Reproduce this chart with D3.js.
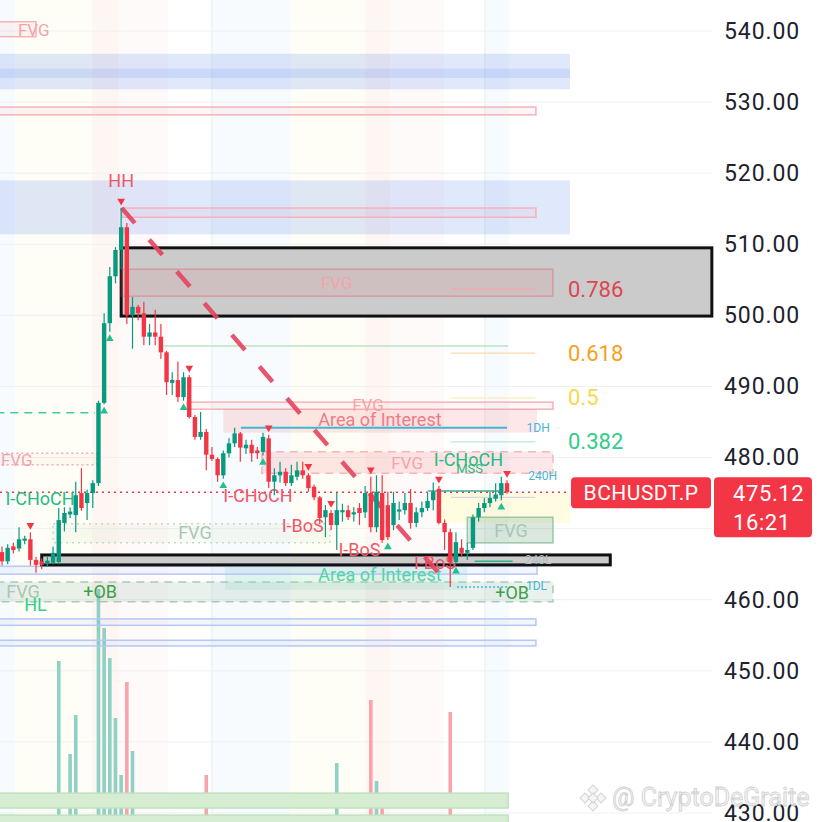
<!DOCTYPE html>
<html>
<head>
<meta charset="utf-8">
<script src="https://cdn.jsdelivr.net/npm/d3@7"></script>
<style>
body { margin: 0; background: #fff; }
svg { display: block; font-family: Roboto, "Noto Sans", sans-serif; }
</style>
</head>
<body>
<svg width="822" height="822"></svg>
<script>
// candles (price units)
const opens = [466.7,465.4,467.5,467.2,468.3,468.5,465.6,465.4,465.0,465.2,
  465.3,470.8,472.0,471.9,475.0,473.6,475.0,476.4,487.7,498.9,
  505.5,509.2,512.4,500.0,501.2,500.3,497.0,497.6,497.0,494.8,
  490.5,490.9,488.5,491.3,485.7,482.9,483.6,480.4,479.8,477.5,
  480.6,482.0,483.4,481.3,481.8,481.0,480.8,482.7,476.6,477.5,
  478.0,476.4,477.3,478.2,477.5,475.9,474.4,471.6,472.2,470.5,
  472.3,472.6,472.0,472.9,472.3,475.0,470.2,475.0,473.3,470.5,
  472.4,472.6,473.6,470.8,472.3,472.9,474.0,475.6,470.8,469.5,
  465.3,467.3,466.6,467.3,471.6,472.9,473.6,474.2,474.7,476.4];
const highs = [467.5,467.8,468.0,470.2,469.0,469.5,466.0,465.8,466.0,467.5,
  472.9,473.0,473.0,476.6,478.5,475.5,476.8,488.0,500.3,506.8,
  509.6,515.1,513.0,502.6,501.5,501.9,498.8,500.8,498.8,495.0,
  492.0,493.5,492.0,491.6,486.0,486.4,484.0,481.5,480.0,481.0,
  482.7,484.2,483.6,482.5,482.5,481.5,483.5,483.2,478.5,479.4,
  478.5,479.0,479.4,479.4,477.8,476.2,474.6,473.3,472.6,475.0,
  473.5,473.3,473.0,473.6,476.0,477.3,477.5,477.5,475.2,475.2,
  473.8,475.0,475.6,473.0,473.8,475.0,476.5,476.0,471.3,470.0,
  469.5,468.5,468.0,472.0,473.6,474.3,475.2,476.4,477.3,476.8];
const lows = [464.8,465.0,466.5,466.8,467.8,464.8,463.8,464.3,464.6,465.0,
  465.0,469.6,471.5,469.5,472.5,471.2,472.9,476.0,487.5,497.7,
  504.5,506.5,498.8,495.3,499.3,495.8,495.8,495.8,493.9,488.8,
  488.8,487.8,488.0,485.5,482.5,482.5,478.2,479.5,476.6,477.0,
  480.0,481.5,479.4,480.5,479.4,479.8,480.3,475.7,474.7,476.5,
  476.0,476.0,476.8,477.0,475.2,474.0,470.6,468.8,469.8,467.0,
  471.0,471.2,471.0,470.5,471.5,469.5,469.5,468.0,468.4,469.8,
  471.2,472.0,470.0,470.2,471.6,472.5,472.6,470.6,467.0,461.8,
  465.0,466.0,465.6,467.0,471.0,472.3,473.0,473.8,474.0,474.9];
const closes = [465.4,467.3,467.0,468.5,468.6,465.6,464.9,464.9,465.5,466.6,
  471.2,472.2,472.4,474.7,472.9,475.0,476.4,487.7,498.9,505.5,
  509.2,512.4,500.0,501.2,500.3,497.0,497.6,497.0,494.8,490.6,
  490.9,488.5,491.3,485.7,482.9,483.6,480.4,479.8,477.5,480.6,
  482.0,483.4,481.4,481.8,480.6,480.6,482.9,476.6,477.5,478.0,
  476.4,477.5,478.2,477.5,475.7,474.4,471.5,472.6,470.5,472.6,
  472.6,471.6,472.3,472.2,475.0,470.2,475.2,468.4,468.8,473.6,
  472.7,473.6,470.8,472.3,472.9,473.9,475.2,470.8,469.5,465.3,
  468.1,466.6,467.0,471.6,472.9,473.6,474.3,474.8,476.4,475.12];
const volumes = [12,10,8,14,9,16,13,9,8,15,
  73,17,42,55,16,14,18,97,84,74,
  54,35,66,43,14,16,11,12,15,17,
  10,13,12,16,15,11,35,12,14,13,
  12,10,14,9,11,10,13,17,12,9,
  10,11,8,9,12,13,16,12,14,39,
  11,10,9,12,15,60,33,25,16,13,
  10,9,14,11,10,12,13,18,15,56,
  17,12,10,16,13,11,10,12,14,9];

const priceTicks = [540, 530, 520, 510, 500, 490, 480, 470, 460, 450, 440, 430];
const lastPrice = 475.12;
const symbol = "BCHUSDT.P";
const countdown = "16:21";

// session background stripes [fromBar, toBar, session]
const sessions = [
  [-1, 2.3, "asia"], [2.3, 15.9, "london"], [15.9, 20.6, "overlap"], [20.6, 29.3, "ny"],
  [37, 50.9, "asia"], [50.9, 64, "london"], [64, 68.4, "overlap"], [68.4, 77.9, "ny"],
  [85.1, 89.3, "asia"]
];
const gridBars = [37, 85.1];

// zones [fromBar, toBar, top, bottom, kind]
const zones = [
  [-1, 6, 541.3, 539.2, "redOutline"],
  [-1, 100.1, 536.8, 531.8, "blue"],
  [-1, 100.1, 534.7, 533.4, "blueDark"],
  [-1, 94.1, 529.3, 528.2, "redOutline"],
  [-1, 100.1, 519.0, 511.4, "blue"],
  [21.1, 94.1, 515.1, 513.8, "redOutline"],
  [21, 125.1, 509.5, 499.9, "blackBox"],
  [21, 97.1, 506.5, 502.7, "fvgRed"],
  [32.6, 97.1, 487.8, 486.8, "redOutline"],
  [39, 94.3, 486.8, 483.5, "aoiRed"],
  [45.8, 97.1, 480.8, 477.8, "fvgRedDashed"],
  [-1, 16.7, 480.6, 479.0, "redDotted"],
  [9, 57.8, 470.7, 468.0, "greyDotted"],
  [77.2, 100.1, 475.0, 470.8, "yellow"],
  [82.0, 97.1, 471.6, 468.0, "greenBox"],
  [39.3, 82, 465.3, 461.4, "aoiGreen"],
  [-1, 94.3, 464.7, 463.6, "blueOutline"],
  [-1, 97.1, 462.5, 459.7, "greenDashed"],
  [7, 107.2, 466.3, 464.9, "blackBox"],
  [-1, 94.1, 457.3, 456.4, "blueOutline"],
  [-1, 94.1, 454.3, 453.5, "blueOutline"],
  [-1, 89.2, 432.8, 430.7, "greenBand"],
  [-1, 89.2, 429.7, 426.0, "greenBand"]
];

// horizontal segments [fromBar, toBar, price, kind]
const levels = [
  [79.1, 94, 503.7, "fibRed"],
  [79.1, 94, 494.7, "fibOrange"],
  [79.1, 94, 488.4, "fibYellow"],
  [79.1, 94, 482.2, "fibGreen"],
  [79.1, 94, 474.4, "fibGray"],
  [28.4, 89.2, 495.7, "greenThin"],
  [42.1, 89, 484.2, "cyan"],
  [80.2, 89.5, 461.8, "cyanDotted"],
  [-1, 16.4, 486.3, "greenDash"],
  [75.1, 87.8, 475.3, "greenSolid"],
  [83.3, 90, 465.4, "greenSolid"]
];

const fibNames = ["0.786", "0.618", "0.5", "0.382"];
const fibPrices = [503.7, 494.7, 488.4, 482.2];
const fibKinds = ["fibRed", "fibOrange", "fibYellow", "fibGreen"];

// trend line [bar, price]
const trend = [[21.1, 515.1], [79.3, 461.6]];

const highMarks = [5, 21, 33, 47, 54, 58, 65, 77, 89];
const lowMarks = [18, 19, 32, 39, 46, 68, 80, 88];

// text labels [text, bar, price, kind]
const labels = [
  ["FVG", 5.6, 540.2, "fvg"],
  ["HH", 21, 519.0, "red"],
  ["FVG", 59, 504.6, "fvg"],
  ["FVG", 64.5, 487.4, "fvg"],
  ["Area of Interest", 66.6, 485.4, "aoi"],
  ["FVG", 71.4, 479.2, "fvg"],
  ["I-CHoCH", 82.2, 479.7, "green"],
  ["MSS", 82.4, 478.5, "greenSmall"],
  ["FVG", 2.6, 479.65, "fvg"],
  ["I-CHoCH", 6.7, 474.3, "green"],
  ["I-CHoCH", 45.1, 474.6, "red"],
  ["I-BoS", 53, 470.5, "red"],
  ["I-BoS", 63, 467.0, "red"],
  ["I-BoS", 76.3, 465.3, "red"],
  ["FVG", 34, 469.4, "fvgGrey"],
  ["FVG", 89.7, 469.8, "fvgGrey"],
  ["Area of Interest", 66.6, 463.5, "aoiGreen"],
  ["FVG", 3.7, 461.1, "fvgGrey"],
  ["+OB", 17.3, 461.1, "ob"],
  ["HL", 5.9, 459.3, "greenHL"],
  ["+OB", 89.9, 461.0, "ob"],
  ["1DH", 94.5, 484.2, "cyanSmall"],
  ["240H", 95.3, 477.4, "cyanSmall"],
  ["1DL", 94.2, 462.0, "cyanSmall"],
  ["240L", 94.5, 465.6, "greySmall"]
];

const svg = d3.select("svg");
const width = +svg.attr("width"), height = +svg.attr("height");
const paneRight = 712;

const x = d3.scaleLinear().domain([0, 89]).range([2, 507]);
const y = d3.scaleLinear().domain([430, 540]).range([813, 31]);
const vol = d3.scaleLinear().domain([0, 100]).range([880, 580]);

svg.append("rect").attr("width", width).attr("height", height).attr("fill", "#fff");

const sessionFill = { asia: "#f7fbfd", london: "#fffef6", overlap: "#fdf6f2", ny: "#fffafa" };
svg.append("g").selectAll("rect").data(sessions).enter().append("rect")
  .attr("x", d => Math.max(0, x(d[0])))
  .attr("width", d => x(d[1]) - Math.max(0, x(d[0])))
  .attr("y", 0).attr("height", height)
  .attr("fill", d => sessionFill[d[2]]);

// grid
svg.append("g").selectAll("line").data(priceTicks).enter().append("line")
  .attr("x1", 0).attr("x2", paneRight)
  .attr("y1", d => y(d)).attr("y2", d => y(d))
  .attr("stroke", "#eef0f2").attr("stroke-width", 1);
svg.append("g").selectAll("line").data(gridBars).enter().append("line")
  .attr("x1", d => x(d)).attr("x2", d => x(d))
  .attr("y1", 0).attr("y2", height)
  .attr("stroke", "#e8eeef").attr("stroke-width", 1);

// volume
svg.append("g").selectAll("rect").data(volumes).enter().append("rect")
  .attr("x", (d, i) => x(i) - 1.8)
  .attr("width", 3.6)
  .attr("y", d => vol(d))
  .attr("height", d => vol(0) - vol(d))
  .attr("fill", (d, i) => closes[i] >= opens[i] ? "#8fd1c4" : "#f7a5ab");

// zones
const zoneStyle = {
  redOutline: { fill: "rgba(242,54,69,0.05)", stroke: "#f6b2b8", sw: 1.5 },
  blue: { fill: "rgba(100,140,240,0.2)", stroke: "none", sw: 0 },
  blueDark: { fill: "rgba(100,140,240,0.17)", stroke: "none", sw: 0 },
  blackBox: { fill: "#cbcbcb", stroke: "#111", sw: 3 },
  fvgRed: { fill: "rgba(242,54,69,0.08)", stroke: "rgba(242,54,69,0.35)", sw: 1.2 },
  aoiRed: { fill: "rgba(242,54,69,0.12)", stroke: "none", sw: 0 },
  fvgRedDashed: { fill: "rgba(242,54,69,0.12)", stroke: "#f7b4ba", sw: 1.5, dash: "8,6" },
  redDotted: { fill: "rgba(242,54,69,0.03)", stroke: "#f5a9b0", sw: 1.5, dash: "2,3" },
  greyDotted: { fill: "rgba(200,210,170,0.12)", stroke: "#c3d8c8", sw: 1.5, dash: "2,4" },
  yellow: { fill: "rgba(255,245,170,0.35)", stroke: "none", sw: 0 },
  greenBox: { fill: "rgba(90,150,110,0.22)", stroke: "#9cc7a9", sw: 1.5 },
  aoiGreen: { fill: "rgba(60,200,160,0.13)", stroke: "none", sw: 0 },
  blueOutline: { fill: "rgba(100,140,240,0.08)", stroke: "#b5c7f6", sw: 1.5 },
  greenDashed: { fill: "rgba(120,170,140,0.16)", stroke: "#a7cbb6", sw: 1.5, dash: "8,6" },
  greenBand: { fill: "#d6ecd3", stroke: "#c2e1bf", sw: 1.5 }
};
svg.append("g").selectAll("rect").data(zones).enter().append("rect")
  .attr("x", d => x(d[0]))
  .attr("width", d => x(d[1]) - x(d[0]))
  .attr("y", d => y(d[2]))
  .attr("height", d => y(d[3]) - y(d[2]))
  .attr("fill", d => zoneStyle[d[4]].fill)
  .attr("stroke", d => zoneStyle[d[4]].stroke)
  .attr("stroke-width", d => zoneStyle[d[4]].sw)
  .attr("stroke-dasharray", d => zoneStyle[d[4]].dash || null);

// levels
const levelStyle = {
  fibRed: ["#f0a7ab", 1.2, null], fibOrange: ["#fbd9b0", 1.2, null],
  fibYellow: ["#fbeeb0", 1.2, null], fibGreen: ["#b9e8d4", 1.2, null],
  fibGray: ["#d6d8dc", 1.2, null], greenThin: ["#bfe2c3", 1.5, null],
  cyan: ["#3fb6d8", 2, null], cyanDotted: ["#3fb6d8", 1.5, "2,2"],
  greenDash: ["#3fcf95", 1.5, "8,6"], greenSolid: ["#2ab58a", 1.5, null]
};
svg.append("g").selectAll("line").data(levels).enter().append("line")
  .attr("x1", d => x(d[0])).attr("x2", d => x(d[1]))
  .attr("y1", d => y(d[2])).attr("y2", d => y(d[2]))
  .attr("stroke", d => levelStyle[d[3]][0])
  .attr("stroke-width", d => levelStyle[d[3]][1])
  .attr("stroke-dasharray", d => levelStyle[d[3]][2]);

// last price dotted line
svg.append("line")
  .attr("x1", 0).attr("x2", 570)
  .attr("y1", y(lastPrice)).attr("y2", y(lastPrice))
  .attr("stroke", "#f23645").attr("stroke-width", 1.5)
  .attr("stroke-dasharray", "2,4");

// labels
const labelStyle = {
  fvg: ["#f4a3ab", 17], fvgGrey: ["#a9c7b4", 18], red: ["#f0566b", 18],
  aoi: ["#f07b86", 18], aoiGreen: ["#4fd6a6", 18], green: ["#27ba83", 18],
  greenSmall: ["#27ba83", 13], ob: ["#3f9f4a", 18], greenHL: ["#2fd18d", 18],
  cyanSmall: ["#45b5d8", 12], greySmall: ["#b4bcc0", 12]
};
svg.append("g").selectAll("text").data(labels).enter().append("text")
  .attr("x", d => x(d[1])).attr("y", d => y(d[2]))
  .attr("text-anchor", "middle")
  .attr("dominant-baseline", "central")
  .attr("fill", d => labelStyle[d[3]][0])
  .attr("font-size", d => labelStyle[d[3]][1])
  .text(d => d[0]);

// trend line
svg.append("path")
  .datum(trend)
  .attr("d", d3.line().x(d => x(d[0])).y(d => y(d[1])))
  .attr("fill", "none")
  .attr("stroke", "#e5435e")
  .attr("stroke-width", 4.5)
  .attr("stroke-dasharray", "20,22")
  .attr("opacity", 0.9);

// candles
const candles = svg.append("g");
candles.selectAll("line").data(closes).enter().append("line")
  .attr("x1", (d, i) => x(i)).attr("x2", (d, i) => x(i))
  .attr("y1", (d, i) => y(highs[i])).attr("y2", (d, i) => y(lows[i]))
  .attr("stroke", (d, i) => d >= opens[i] ? "#089981" : "#f23645")
  .attr("stroke-width", 1.2);
candles.selectAll("rect").data(closes).enter().append("rect")
  .attr("x", (d, i) => x(i) - 2.2).attr("width", 4.4)
  .attr("y", (d, i) => y(Math.max(d, opens[i])))
  .attr("height", (d, i) => Math.max(1.2, Math.abs(y(d) - y(opens[i]))))
  .attr("fill", (d, i) => d >= opens[i] ? "#089981" : "#f23645");

// swing markers
const tri = d3.symbol().type(d3.symbolTriangle).size(26);
svg.append("g").selectAll("path").data(highMarks).enter().append("path")
  .attr("d", tri)
  .attr("transform", i => "translate(" + x(i) + "," + (y(highs[i]) - 7) + ") rotate(180)")
  .attr("fill", "#f23645");
svg.append("g").selectAll("path").data(lowMarks).enter().append("path")
  .attr("d", tri)
  .attr("transform", i => "translate(" + x(i) + "," + (y(lows[i]) + 7) + ")")
  .attr("fill", "#22c08f");

// fib labels
svg.append("g").selectAll("text").data(fibNames).enter().append("text")
  .attr("x", 568).attr("y", (d, i) => y(fibPrices[i]))
  .attr("dominant-baseline", "central")
  .attr("font-size", 22)
  .attr("fill", (d, i) => ({ fibRed: "#de4651", fibOrange: "#f7a11c", fibYellow: "#fbd84a", fibGreen: "#30cc8a" })[fibKinds[i]])
  .text(d => d);

// price axis
const axis = svg.append("g")
  .attr("transform", "translate(" + paneRight + ",0)")
  .call(d3.axisRight(y).tickValues(priceTicks).tickFormat(d3.format(".2f")).tickSize(0).tickPadding(12));
axis.select(".domain").remove();
axis.selectAll("text").attr("font-size", 23).attr("letter-spacing", 0.9)
  .attr("fill", "#1e222d").attr("font-family", "Roboto");

// last price tags
const ly = y(lastPrice);
svg.append("rect").attr("x", 571).attr("y", ly - 15).attr("width", 140).attr("height", 31)
  .attr("rx", 4).attr("fill", "#f23645");
svg.append("text").attr("x", 641).attr("y", ly + 1).attr("text-anchor", "middle")
  .attr("dominant-baseline", "central").attr("font-size", 21).attr("letter-spacing", 0.5)
  .attr("fill", "#fff").text(symbol);
svg.append("rect").attr("x", 714).attr("y", ly - 15).attr("width", 98).attr("height", 60)
  .attr("rx", 4).attr("fill", "#f23645");
svg.append("text").attr("x", 733).attr("y", ly + 1).attr("letter-spacing", 0.6)
  .attr("dominant-baseline", "central").attr("font-size", 22).attr("fill", "#fff").text(d3.format(".2f")(lastPrice));
svg.append("text").attr("x", 733).attr("y", ly + 30).attr("letter-spacing", 0.6)
  .attr("dominant-baseline", "central").attr("font-size", 22).attr("fill", "#fff").text(countdown);

// watermark
const wm = svg.append("g").attr("opacity", 0.9);
[[593, 790], [585, 798], [601, 798], [593, 806], [593, 798]].forEach(p => {
  wm.append("rect").attr("x", p[0] - 3.5).attr("y", p[1] - 3.5).attr("width", 7).attr("height", 7)
    .attr("transform", "rotate(45," + p[0] + "," + p[1] + ")")
    .attr("fill", "#f4f4f4").attr("stroke", "#cfcfcf").attr("stroke-width", 1);
});
wm.append("text").attr("x", 612).attr("y", 797).attr("dominant-baseline", "central")
  .attr("font-size", 25).attr("fill", "#f5f5f5").attr("stroke", "#cccccc").attr("stroke-width", 0.8)
  .text("@ CryptoDeGraite");
</script>
</body>
</html>
